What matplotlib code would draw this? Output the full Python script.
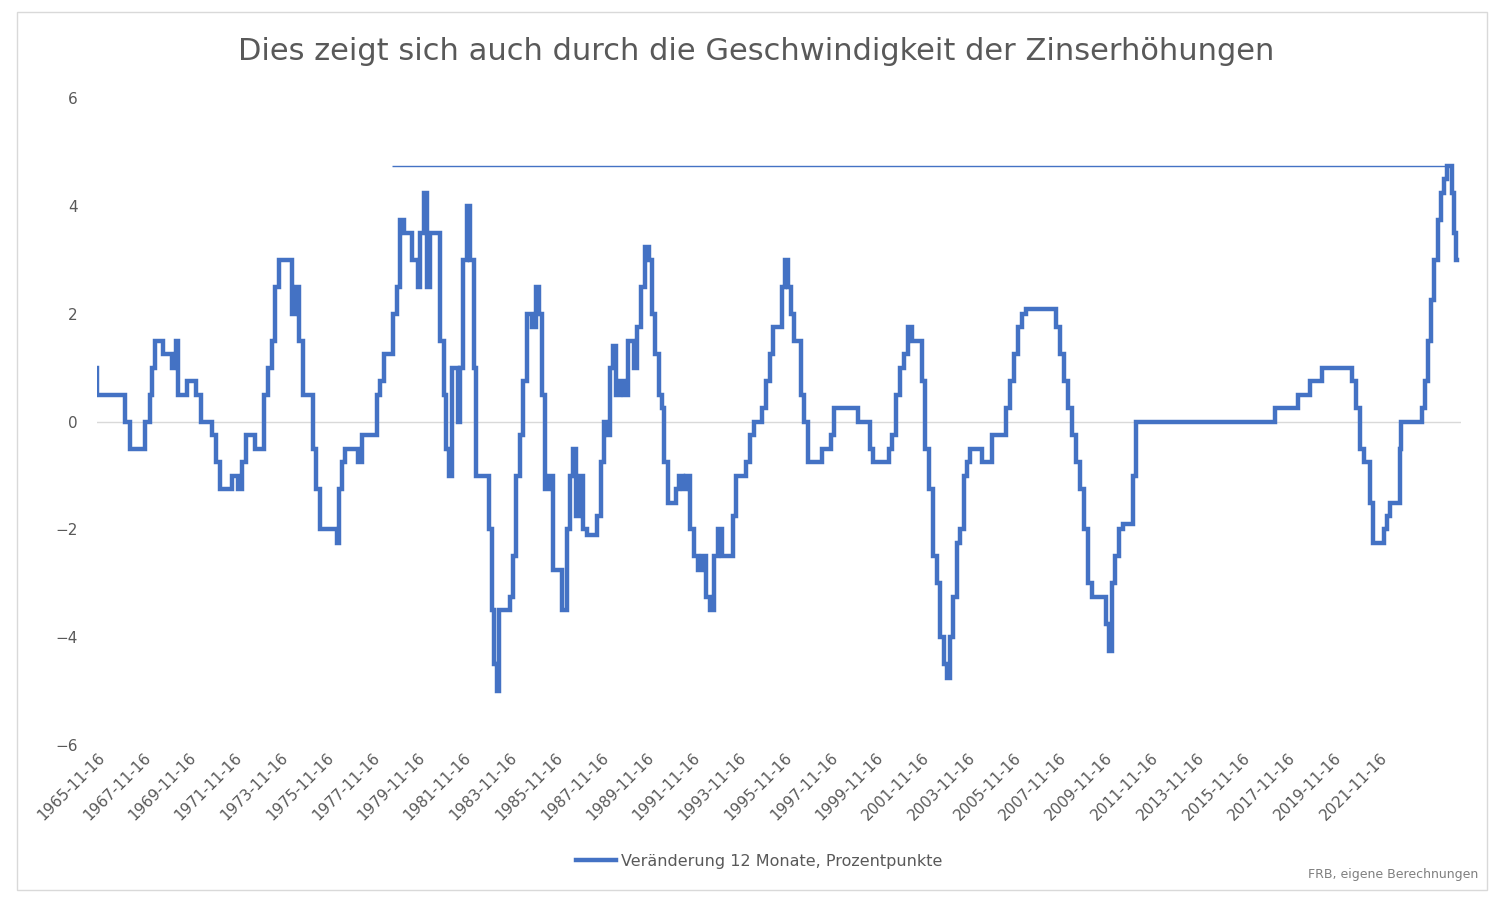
import matplotlib.pyplot as plt
from matplotlib.patches import Rectangle

# years since 1965-11-16, value in percentage points (step series)
t = [0, 0.01, 1.22, 1.44, 2.10, 2.31, 2.40, 2.53, 2.88, 3.28, 3.45, 3.54, 3.93, 4.32, 4.54,
     5.02, 5.20, 5.37, 5.90, 6.16, 6.33, 6.51, 6.90, 7.29, 7.47, 7.64, 7.77, 7.95, 8.52,
     8.69, 8.82, 9.00, 9.43, 9.56, 9.74, 10.48, 10.57, 10.70, 10.83, 11.40, 11.57, 12.23,
     12.36, 12.53, 12.93, 13.10, 13.23, 13.41, 13.76, 14.02, 14.10, 14.28, 14.41, 14.54,
     14.98, 15.15, 15.24, 15.37, 15.50, 15.76, 15.85, 15.98, 16.16, 16.29, 16.46, 16.55,
     17.12, 17.25, 17.34, 17.47, 17.55, 18.03, 18.17, 18.30, 18.47, 18.60, 18.78, 19.00,
     19.17, 19.30, 19.43, 19.56, 19.74, 19.91, 20.31, 20.52, 20.66, 20.79, 20.92, 21.09,
     21.22, 21.40, 21.83, 22.01, 22.14, 22.27, 22.40, 22.53, 22.66, 22.84, 23.01, 23.19,
     23.45, 23.58, 23.76, 23.93, 24.10, 24.24, 24.37, 24.54, 24.67, 24.76, 24.93, 25.28,
     25.41, 25.59, 25.72, 25.90, 26.07, 26.24, 26.42, 26.59, 26.77, 26.94, 27.12, 27.29,
     27.77, 27.90, 28.34, 28.52, 28.69, 29.04, 29.21, 29.39, 29.52, 29.91, 30.04, 30.17,
     30.31, 30.44, 30.74, 30.87, 31.05, 31.66, 32.05, 32.18, 33.23, 33.76, 33.89, 34.59, 34.72,
     34.89, 35.07, 35.24, 35.41, 35.59, 36.03, 36.16, 36.33, 36.51, 36.68, 36.81, 36.99,
     37.12, 37.25, 37.38, 37.55, 37.69, 37.86, 37.99, 38.12, 38.65, 39.08, 39.69, 39.87,
     40.04, 40.22, 40.39, 40.57, 41.88, 42.05, 42.23, 42.40, 42.58, 42.75, 42.93, 43.10,
     43.28, 43.45, 44.06, 44.19, 44.32, 44.45, 44.63, 44.80, 45.24, 45.37, 51.44, 52.45,
     52.97, 53.49, 54.80, 54.97, 55.15, 55.33, 55.55, 55.72, 56.20, 56.33, 56.46, 56.86,
     56.94, 57.86, 57.99, 58.12, 58.25, 58.38, 58.52, 58.69, 58.82, 58.95, 59.13, 59.26,
     59.34, 59.39]
v = [1.0, 0.5, 0, -0.5, 0, 0.5, 1.0, 1.5, 1.25, 1.0, 1.5, 0.5, 0.75, 0.5, 0,
     -0.25, -0.75, -1.25, -1.0, -1.25, -0.75, -0.25, -0.5, 0.5, 1.0, 1.5, 2.5, 3.0, 2.0,
     2.5, 1.5, 0.5, -0.5, -1.25, -2.0, -2.25, -1.25, -0.75, -0.5, -0.75, -0.25, 0.5,
     0.75, 1.25, 2.0, 2.5, 3.75, 3.5, 3.0, 2.5, 3.5, 4.25, 2.5, 3.5,
     1.5, 0.5, -0.5, -1.0, 1.0, 0, 1.0, 3.0, 4.0, 3.0, 1.0, -1.0,
     -2.0, -3.5, -4.5, -5.0, -3.5, -3.25, -2.5, -1.0, -0.25, 0.75, 2.0, 1.75,
     2.5, 2.0, 0.5, -1.25, -1.0, -2.75, -3.5, -2.0, -1.0, -0.5, -1.75, -1.0,
     -2.0, -2.1, -1.75, -0.75, 0, -0.25, 1.0, 1.4, 0.5, 0.75, 0.5, 1.5,
     1.0, 1.75, 2.5, 3.25, 3.0, 2.0, 1.25, 0.5, 0.25, -0.75, -1.5, -1.25,
     -1.0, -1.25, -1.0, -2.0, -2.5, -2.75, -2.5, -3.25, -3.5, -2.5, -2.0, -2.5,
     -1.75, -1.0, -0.75, -0.25, 0, 0.25, 0.75, 1.25, 1.75, 2.5, 3.0, 2.5,
     2.0, 1.5, 0.5, 0, -0.75, -0.5, -0.25, 0.25, 0, -0.5, -0.75, -0.5,
     -0.25, 0.5, 1.0, 1.25, 1.75, 1.5, 0.75, -0.5, -1.25, -2.5, -3.0, -4.0,
     -4.5, -4.75, -4.0, -3.25, -2.25, -2.0, -1.0, -0.75, -0.5, -0.75, -0.25, 0.25,
     0.75, 1.25, 1.75, 2.0, 2.1, 1.75, 1.25, 0.75, 0.25, -0.25, -0.75, -1.25,
     -2.0, -3.0, -3.25, -3.75, -4.25, -3.0, -2.5, -2.0, -1.9, -1.0, 0, 0.25,
     0.5, 0.75, 1.0, 0.75, 0.25, -0.5, -0.75, -1.5, -2.25, -2.0, -1.75, -1.5, -0.5,
     0, 0.25, 0.75, 1.5, 2.25, 3.0, 3.75, 4.25, 4.5, 4.75, 4.25, 3.5,
     3.0, 3.0]

peak = 4.75
peak_span = (12.88, 59.08)
tick_pos = list(range(0, 57, 2))
tick_labels = [f"{1965 + p}-11-16" for p in tick_pos]

blue = "#4472C4"
grey = "#595959"

fig = plt.figure(figsize=(15.04, 9.02), dpi=100)
ax = fig.add_axes([0.0645, 0.174, 0.907, 0.717])

ax.step(t, v, where="post", color=blue, lw=3.2, solid_joinstyle="miter",
        label="Veränderung 12 Monate, Prozentpunkte")
ax.hlines(peak, *peak_span, color=blue, lw=1)
ax.axhline(0, color="#D9D9D9", lw=1, zorder=0)

ax.set_xlim(0, 59.55)
ax.set_ylim(-6, 6)
ax.set_yticks(range(-6, 7, 2))
ax.set_xticks(tick_pos)
ax.set_xticklabels(tick_labels, rotation=45, ha="right", rotation_mode="anchor")
ax.tick_params(length=0, colors=grey, labelsize=11)
ax.tick_params(axis="y", pad=14)
for s in ax.spines.values():
    s.set_visible(False)

fig.text(0.503, 0.943, "Dies zeigt sich auch durch die Geschwindigkeit der Zinserhöhungen",
         ha="center", va="center", fontsize=22, color=grey)
fig.legend(loc="center", bbox_to_anchor=(0.505, 0.045), frameon=False, fontsize=11.5,
           labelcolor=grey, handlelength=2.5, handletextpad=0.3)
fig.text(0.983, 0.03, "FRB, eigene Berechnungen", ha="right", va="center",
         fontsize=9, color="#7F7F7F")
fig.patches.append(Rectangle((0.011, 0.013), 0.978, 0.974, transform=fig.transFigure,
                             fill=False, edgecolor="#D9D9D9", lw=1))

fig.savefig("out.png", dpi=100)
